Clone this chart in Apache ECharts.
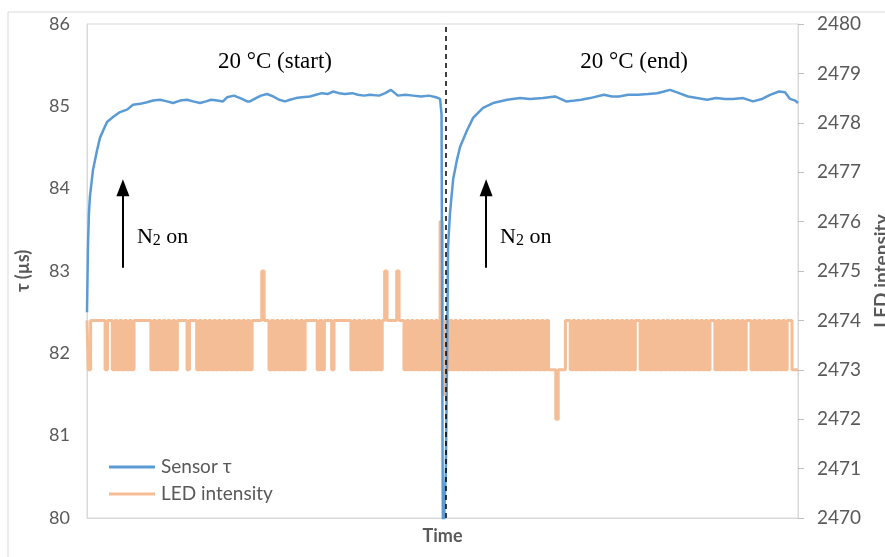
<!DOCTYPE html>
<html lang="en">
<head>
<meta charset="UTF-8">
<title>Sensor tau and LED intensity</title>
<style type="text/css">
    html, body {
        margin: 0;
        padding: 0;
        background: #fff;
    }
    #chart {
        width: 885px;
        height: 557px;
    }
</style>
</head>
<body>
<div id="chart"></div>
<script src="https://cdn.jsdelivr.net/npm/echarts@6/dist/echarts.min.js"></script>
<script type="text/javascript">
// time axis runs in sample units (one LED sample per unit)
var tauTime = [0, 0.4, 0.8, 1.2, 2.5, 4.2, 5.4, 8.3, 10.8, 13.7, 16.6, 19.1, 22.0, 24.9, 27.4, 30.3, 33.2, 35.7, 38.6, 41.5,
    44.0, 46.9, 49.4, 51.5, 54.0, 56.4, 58.1, 61.0, 64.3, 66.4, 67.6, 70.1, 72.2, 74.7, 77.2, 79.7, 82.2, 84.2, 86.7, 89.2,
    92.5, 95.0, 97.5, 100.0, 102.1, 104.6, 107.1, 110.0, 112.4, 114.9, 117.4, 121.2, 123.7, 126.1, 129.0, 132.0, 135.3, 138.6, 141.9, 144.8,
    146.5, 147.1, 147.3, 147.5, 147.7, 148.5, 148.9, 149.4, 149.8, 150.6, 151.9, 153.5, 154.8, 157.7, 160.2, 164.3, 168.5, 174.3, 179.7, 183.8,
    189.2, 194.2, 198.8, 202.5, 205.0, 208.7, 214.5, 217.8, 220.7, 224.5, 228.6, 232.8, 236.5, 239.4, 241.9, 244.8, 249.4, 253.1, 257.3, 261.0,
    264.7, 268.0, 272.2, 276.3, 280.1, 283.4, 287.1, 289.6, 291.7, 293.8, 295.0];

var tauValue = [82.5, 83.3, 83.7, 83.9, 84.23, 84.47, 84.62, 84.81, 84.87, 84.93, 84.96, 85.02, 85.03, 85.05, 85.07, 85.08, 85.06, 85.04, 85.07, 85.08,
    85.06, 85.04, 85.06, 85.08, 85.07, 85.06, 85.11, 85.13, 85.09, 85.06, 85.06, 85.10, 85.13, 85.15, 85.12, 85.08, 85.06, 85.08, 85.10, 85.11,
    85.12, 85.14, 85.16, 85.15, 85.18, 85.16, 85.15, 85.16, 85.14, 85.13, 85.14, 85.13, 85.16, 85.20, 85.13, 85.14, 85.13, 85.12, 85.13, 85.11,
    85.09, 84.9, 83.0, 81.0, 79.6, 79.6, 80.6, 81.92, 83.29, 83.70, 84.11, 84.35, 84.51, 84.71, 84.86, 84.98, 85.04, 85.08, 85.10, 85.09,
    85.10, 85.12, 85.06, 85.07, 85.08, 85.10, 85.14, 85.12, 85.12, 85.14, 85.14, 85.15, 85.16, 85.18, 85.20, 85.17, 85.12, 85.10, 85.08, 85.10,
    85.09, 85.09, 85.10, 85.06, 85.09, 85.14, 85.18, 85.17, 85.09, 85.07, 85.04];

var ledIntensity = [
    2474, 2473, 2474, 2474, 2474, 2474, 2474, 2474, 2473, 2474, 2474,
    2473, 2474, 2473, 2474, 2473, 2474, 2473, 2474, 2473, 2474,
    2474, 2474, 2474, 2474, 2474, 2474,
    2473, 2474, 2473, 2474, 2473, 2474, 2473, 2474, 2473, 2474, 2473,
    2474, 2474, 2474, 2474, 2473, 2474, 2474, 2474,
    2473, 2474, 2473, 2474, 2473, 2474, 2473, 2474, 2473, 2474, 2473,
    2474, 2473, 2474,
    2473, 2474, 2473, 2474, 2473, 2474, 2473, 2474, 2473, 2474,
    2474, 2474, 2474, 2475, 2474, 2474,
    2473, 2474, 2473, 2474, 2473, 2474, 2473, 2474, 2473, 2474, 2473, 2474, 2473, 2474, 2473,
    2474, 2474, 2474, 2474, 2474,
    2473, 2474, 2473, 2474,
    2474, 2474, 2473, 2474, 2474, 2474, 2474, 2474, 2474, 2474,
    2473, 2474, 2473, 2474, 2473, 2474, 2473, 2474, 2473, 2474, 2473, 2474, 2473,
    2474, 2475, 2474, 2474, 2474, 2474, 2475, 2474, 2474,
    2473, 2474, 2473, 2474, 2473, 2474, 2473, 2474, 2473, 2474, 2473, 2474, 2473, 2474, 2473,
    2476, 2472.5,
    2474, 2473, 2474, 2473, 2474, 2473, 2474, 2473, 2474, 2473, 2474, 2473, 2474, 2473, 2474, 2473, 2474, 2473, 2474, 2473, 2474, 2473,
    2474, 2473, 2474, 2473, 2474, 2473, 2474, 2473, 2474, 2473, 2474, 2473, 2474, 2473, 2474, 2473, 2474, 2473, 2474, 2473, 2474, 2473,
    2473, 2473, 2472, 2473, 2473, 2473, 2474, 2474,
    2473, 2474, 2473, 2474, 2473, 2474, 2473, 2474, 2473, 2474, 2473, 2474, 2473, 2474, 2473, 2474, 2473, 2474, 2473,
    2474, 2473, 2474, 2473, 2474, 2473, 2474, 2473, 2474, 2474,
    2473, 2474, 2473, 2474, 2473, 2474, 2473, 2474, 2473, 2474, 2473, 2474, 2473, 2474,
    2473, 2474, 2473, 2474, 2473, 2474, 2473, 2474, 2473, 2474, 2473, 2474, 2473,
    2474, 2473, 2474, 2474,
    2473, 2474, 2473, 2474, 2473, 2474, 2473, 2474, 2473, 2474, 2473, 2474, 2473, 2474,
    2474, 2473, 2474, 2473, 2474,
    2473, 2474, 2473, 2474, 2473, 2474, 2473, 2474, 2473, 2474, 2473,
    2474, 2474, 2473, 2473, 2473
];

var tauTicks = [80, 81, 82, 83, 84, 85, 86];
var ledTicks = [2470, 2471, 2472, 2473, 2474, 2475, 2476, 2477, 2478, 2479, 2480];

// markers: time of the temperature switch, arrow positions, annotation anchors
var switchTime = 149;
var arrowTimes = [14.9, 165.6];
var arrowFrom = 83.04;
var arrowTo = 84.01;
var phaseLabels = ['20 °C (start)', '20 °C (end)'];
var phaseTimes = [78, 227];
var phaseTau = 85.54;
var n2Times = [20.7, 171.4];
var n2Tau = 83.41;

var tauData = [];
for (var i = 0; i < tauTime.length; i++) {
    tauData.push([tauTime[i], tauValue[i]]);
}
var ledData = [];
for (var j = 0; j < ledIntensity.length; j++) {
    ledData.push([j, ledIntensity[j]]);
}

var gray = '#595959';
var font = 'Lato, "Open Sans", sans-serif';
var serif = '"Liberation Serif", "DejaVu Serif", serif';

var chart = echarts.init(document.getElementById('chart'));

var arrowLines = [];
for (var k = 0; k < arrowTimes.length; k++) {
    arrowLines.push([
        { coord: [arrowTimes[k], arrowFrom], symbol: 'none', lineStyle: { color: '#000', width: 2, type: 'solid' } },
        { coord: [arrowTimes[k], arrowTo], symbol: 'triangle', symbolSize: [13, 17] }
    ]);
}

var option = {
    animation: false,
    backgroundColor: '#fff',
    grid: {
        left: 87,
        right: 87,
        top: 24,
        bottom: 39,
        outerBoundsMode: 'none',
        containLabel: false,
        show: true,
        borderColor: '#d9d9d9',
        borderWidth: 1
    },
    legend: {
        orient: 'vertical',
        left: 104,
        top: 452,
        itemWidth: 46,
        itemHeight: 3,
        itemGap: 7,
        icon: 'rect',
        data: ['Sensor τ', 'LED intensity'],
        textStyle: { color: gray, fontSize: 19, fontFamily: font, lineHeight: 20, padding: [0, 0, 0, 1] }
    },
    xAxis: {
        type: 'value',
        min: 0,
        max: 295,
        name: 'Time',
        nameLocation: 'middle',
        nameGap: 9,
        nameTextStyle: { color: gray, fontSize: 18, fontWeight: 'bold', fontFamily: font, verticalAlign: 'top' },
        axisLine: { show: true, lineStyle: { color: '#d9d9d9' } },
        axisTick: { show: false },
        axisLabel: { show: false },
        splitLine: { show: false }
    },
    yAxis: [{
        type: 'value',
        min: tauTicks[0],
        max: tauTicks[tauTicks.length - 1],
        interval: 1,
        position: 'left',
        name: 'τ (µs)',
        nameLocation: 'middle',
        nameGap: 55,
        nameTextStyle: { color: gray, fontSize: 18, fontWeight: 'bold', fontFamily: font },
        axisLine: { show: true, lineStyle: { color: '#d9d9d9' } },
        axisTick: { show: false },
        axisLabel: { color: gray, fontSize: 18, fontFamily: font, margin: 17 },
        splitLine: { show: false }
    }, {
        type: 'value',
        min: ledTicks[0],
        max: ledTicks[ledTicks.length - 1],
        interval: 1,
        position: 'right',
        name: 'LED intensity',
        nameLocation: 'middle',
        nameRotate: 90,
        nameGap: 73,
        nameTextStyle: { color: gray, fontSize: 19, fontWeight: 'bold', fontFamily: font },
        axisLine: { show: true, lineStyle: { color: '#d9d9d9' } },
        axisTick: { show: true, length: 6, lineStyle: { color: '#bfbfbf' } },
        axisLabel: {
            color: gray, fontSize: 19, fontFamily: font, margin: 19,
            formatter: function (v) { return String(v); }
        },
        splitLine: { show: false }
    }],
    series: [{
        name: 'Sensor τ',
        type: 'line',
        yAxisIndex: 0,
        data: tauData,
        symbol: 'none',
        z: 3,
        color: '#5b9bd5',
        lineStyle: { color: '#5b9bd5', width: 2.5 },
        markLine: {
            silent: true,
            symbol: ['none', 'none'],
            label: { show: false },
            z: 5,
            data: [
                { xAxis: switchTime, symbol: 'none', lineStyle: { color: '#000', width: 1.5, type: [5, 4] } }
            ].concat(arrowLines)
        }
    }, {
        name: 'LED intensity',
        type: 'line',
        yAxisIndex: 1,
        data: ledData,
        symbol: 'none',
        step: 'middle',
        z: 2,
        color: '#f5bd96',
        lineStyle: { color: '#f5bd96', width: 3 }
    }]
};

chart.setOption(option);

// annotation texts, positioned through the chart's own scales
var texts = [{
    type: 'rect',
    shape: { x: 8, y: 12, width: 900, height: 560 },
    style: { fill: 'none', stroke: '#d9d9d9', lineWidth: 1 },
    silent: true,
    z: -10
}];
for (var p = 0; p < phaseLabels.length; p++) {
    var pt = chart.convertToPixel({ xAxisIndex: 0, yAxisIndex: 0 }, [phaseTimes[p], phaseTau]);
    texts.push({
        type: 'text',
        x: pt[0],
        y: pt[1],
        style: { text: phaseLabels[p], fill: '#000', font: '23px ' + serif, textAlign: 'center', textVerticalAlign: 'middle' }
    });
}
for (var q = 0; q < n2Times.length; q++) {
    var np = chart.convertToPixel({ xAxisIndex: 0, yAxisIndex: 0 }, [n2Times[q], n2Tau]);
    texts.push({
        type: 'text',
        x: np[0],
        y: np[1],
        style: {
            text: '{a|N}{b|2}{a| on}',
            textVerticalAlign: 'middle',
            rich: {
                a: { fontSize: 22, fontFamily: serif, color: '#000', lineHeight: 26, verticalAlign: 'middle' },
                b: { fontSize: 16, fontFamily: serif, color: '#000', lineHeight: 26, verticalAlign: 'bottom', padding: [0, 0, 1, 0] }
            }
        }
    });
}
chart.setOption({ graphic: texts });
</script>
</body>
</html>
